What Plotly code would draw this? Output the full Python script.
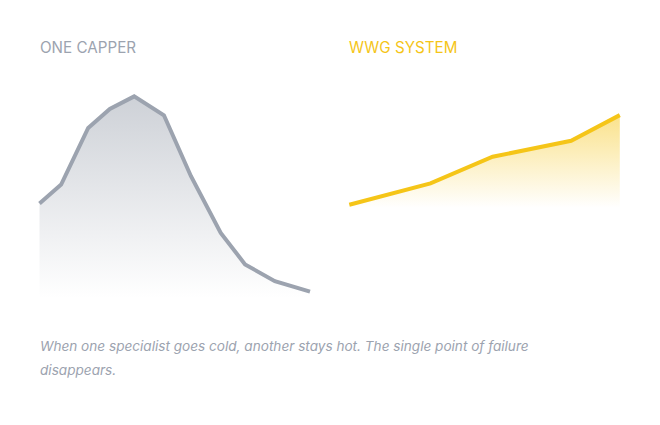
import plotly.graph_objects as go

W, H = 660, 425
OFF = 8  # page body margin in the browser

# left panel: a single capper's form over time (rises, peaks, collapses)
capper_x = [0, 0.8, 1.8, 2.6, 3.5, 4.6, 5.6, 6.7, 7.6, 8.7, 10]
capper_y = [45, 54, 81, 90, 96, 87, 58, 31, 16, 8, 3]

# right panel: the system's steady climb
system_x = [0, 3, 5.3, 8.2, 10]
system_y = [1.5, 11.5, 24, 31.5, 43.5]

titles = ["ONE CAPPER", "WWG SYSTEM"]
caption = [
    "When one specialist goes cold, another stays hot. The single point of failure",
    "disappears.",
]

GRAY = "#9ca3af"
GOLD = "#f5c518"


def xdom(a, b):
    return [(a - OFF) / W, (b - OFF) / W]


def ydom(top, bottom):
    return [1 - (bottom - OFF) / H, 1 - (top - OFF) / H]


fig = go.Figure()

fig.add_trace(go.Scatter(
    x=capper_x, y=capper_y, mode="lines", fill="tozeroy",
    line=dict(color=GRAY, width=4),
    fillgradient=dict(type="vertical", colorscale=[[0, "rgba(156,163,175,0)"], [1, "rgba(156,163,175,0.5)"]]),
    xaxis="x", yaxis="y", hoverinfo="skip",
))
fig.add_trace(go.Scatter(
    x=system_x, y=system_y, mode="lines", fill="tozeroy",
    line=dict(color=GOLD, width=4),
    fillgradient=dict(type="vertical", colorscale=[[0, "rgba(245,197,24,0)"], [1, "rgba(245,197,24,0.5)"]]),
    xaxis="x2", yaxis="y2", hoverinfo="skip",
))

hidden = dict(visible=False, showgrid=False, zeroline=False, fixedrange=True)
sx = 27.05  # px per x unit
sy = 2.1    # px per y unit

fig.update_layout(
    width=W, height=H,
    margin=dict(l=0, r=0, t=0, b=0),
    paper_bgcolor="white", plot_bgcolor="rgba(0,0,0,0)",
    showlegend=False,
    font=dict(family="Inter, sans-serif"),
    xaxis=dict(domain=xdom(34, 316), range=[-5.5 / sx, 10 + 6 / sx], **hidden),
    yaxis=dict(domain=ydom(85, 300), range=[-2 / sy, 213 / sy], **hidden),
    xaxis2=dict(domain=xdom(344, 625), range=[-5.3 / sx, 10 + 5.2 / sx], **hidden),
    yaxis2=dict(domain=ydom(85, 210), range=[-2 / sy, 121 / sy], **hidden),
)

for txt, x0, col in zip(titles, [38, 347], [GRAY, GOLD]):
    fig.add_annotation(
        text=txt, xref="paper", yref="paper", x=(x0 - OFF) / W, y=1 - (47 - OFF) / H,
        xanchor="left", yanchor="middle", showarrow=False,
        font=dict(size=15.2, color=col),
    )

for i, line in enumerate(caption):
    fig.add_annotation(
        text="<i>" + line + "</i>", xref="paper", yref="paper",
        x=(38 - OFF) / W, y=1 - (346 + 24 * i - OFF) / H,
        xanchor="left", yanchor="middle", showarrow=False,
        font=dict(size=13.6, color=GRAY),
    )

fig.write_html("out.html", config={"displayModeBar": False, "staticPlot": True})
